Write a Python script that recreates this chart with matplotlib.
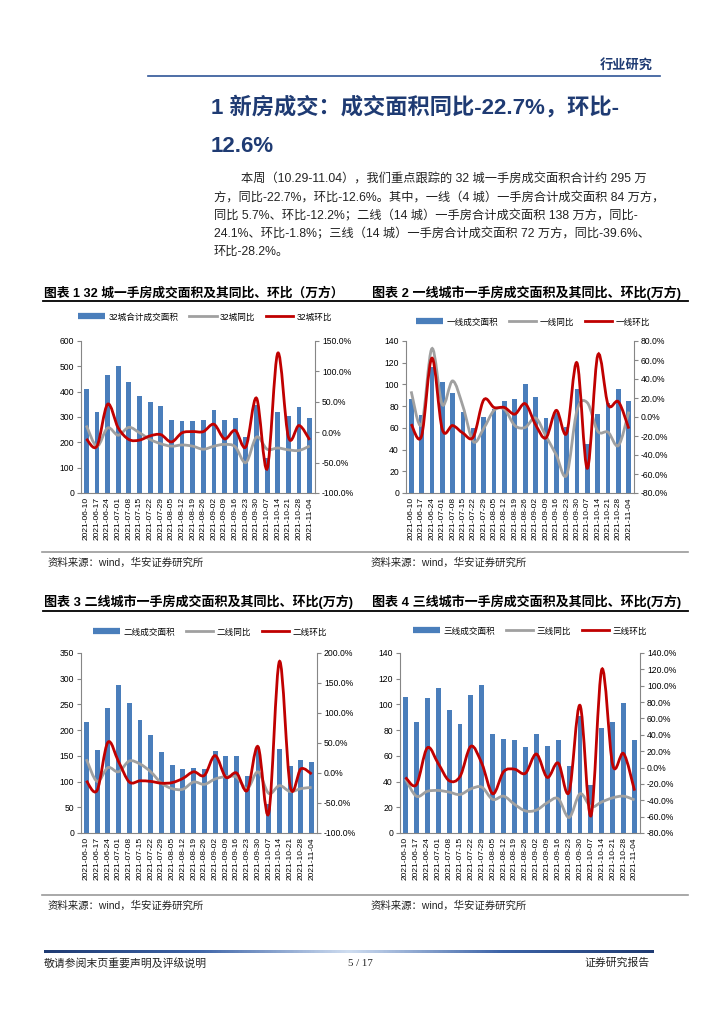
import matplotlib
matplotlib.use("Agg")
import matplotlib.pyplot as plt
from matplotlib.path import Path
from matplotlib.patches import PathPatch
from matplotlib.lines import Line2D
from matplotlib.colors import LinearSegmentedColormap
from matplotlib.ticker import FuncFormatter, MultipleLocator
import numpy as np

plt.rcParams['font.family'] = ['Liberation Sans', 'Noto Sans CJK SC', 'DejaVu Sans']

dates = ['2021-06-10', '2021-06-17', '2021-06-24', '2021-07-01', '2021-07-08', '2021-07-15',
         '2021-07-22', '2021-07-29', '2021-08-05', '2021-08-12', '2021-08-19', '2021-08-26',
         '2021-09-02', '2021-09-09', '2021-09-16', '2021-09-23', '2021-09-30', '2021-10-07',
         '2021-10-14', '2021-10-21', '2021-10-28', '2021-11-04']

# 32 cities
area32 = [410, 320, 465, 502, 440, 381, 358, 344, 288, 283, 286, 290, 326, 287, 296, 222, 346, 140, 320, 302, 338, 295]
yoy32 = [11, -23, 7, -5, 8, -1, -12, -19, -23, -21, -23, -28, -23, -20, -24, -50, -8, -28, -26, -29, -30, -22.7]
mom32 = [-11, -23, 46, 7, -12, -13, -6, -4, -16, -1, 1, 1, 13, -11, 3, -24, 56, -60, 130, -8, 11, -12.6]

# tier 1
area1 = [87, 72, 116, 102, 92, 75, 60, 70, 77, 85, 87, 100, 88, 69, 74, 61, 96, 45, 73, 83, 96, 85]
yoy1 = [27, -8, 72, 13, 38, 11, -26, -12, 7, 8, -9, -11, -1, -20, -40, -61, 7, 15, -15, -16, -30, 5.7]
mom1 = [-7.5, -20, 62, -13, -9, -17, -21, 18, 10, 10, 3, 14, -8, -22, 7, -17, 57, -54, 65, 13, 16, -12.2]

# tier 2
area2 = [216, 162, 243, 287, 252, 220, 190, 157, 133, 124, 126, 124, 160, 150, 150, 110, 168, 56, 163, 131, 141, 138]
yoy2 = [23, -14, 9, 2, 20, 15, 2, -17, -26, -27, -15, -19, -10, -6, -7, -26, 2, -34, -21, -31, -26, -24.1]
mom2 = [-13, -29, 51, 19, -15, -13, -14, -17, -16, -9, 2, -4, 29, -7, 0, -29, 44, -67, 186, -22, 7, -1.8]

# tier 3
area3 = [106, 86, 105, 113, 96, 85, 107, 115, 77, 73, 72, 67, 77, 68, 72, 52, 91, 37, 82, 86, 101, 72]
yoy3 = [-14, -35, -29, -28, -30, -33, -26, -24, -39, -35, -45, -53, -52, -43, -38, -61, -32, -48, -42, -37, -35, -39.6]
mom3 = [-12, -21, 24, 5, -16, -11, 26, 5, -32, -5, -2, -7, 16.5, -12, 5.5, -30, 76, -59, 120, 3, 17, -28.2]

W, H = 724, 1024
fig = plt.figure(figsize=(W / 100, H / 100), dpi=100)

NAVY = '#1F3B73'
BAR = '#4A7EBB'
GRAY = '#A0A0A0'
RED = '#C00000'
SPINE = '#868686'


def fx(x):
    return x / W


def fy(y):
    return 1 - y / H


def smooth_path(xs, ys):
    pts = np.column_stack([xs, ys]).astype(float)
    n = len(pts)
    verts = [pts[0]]
    codes = [Path.MOVETO]
    for i in range(n - 1):
        p0 = pts[i - 1] if i > 0 else pts[i]
        p1 = pts[i]
        p2 = pts[i + 1]
        p3 = pts[i + 2] if i + 2 < n else pts[i + 1]
        c1 = p1 + (p2 - p0) / 6.0
        c2 = p2 - (p3 - p1) / 6.0
        verts += [c1, c2, p2]
        codes += [Path.CURVE4] * 3
    return Path(verts, codes)


def chart(box, area, yoy, mom, labels, lylim, lstep, rylim, rstep, legend_xy):
    x0, y0, x1, y1 = box
    ax = fig.add_axes([fx(x0), fy(y1), fx(x1 - x0), (y1 - y0) / H])
    x = np.arange(len(dates))
    ax.bar(x, area, width=0.45, color=BAR, zorder=2)
    ax.set_xlim(-0.5, len(dates) - 0.5)
    ax.set_ylim(*lylim)
    ax.yaxis.set_major_locator(MultipleLocator(lstep))
    ax.set_xticks(x)
    ax.set_xticklabels(dates, rotation=90, fontsize=6)
    ax.tick_params(axis='x', length=0, pad=3)
    ax.tick_params(axis='y', labelsize=6.2, length=3, color=SPINE, pad=2)
    for s in ['top', 'right']:
        ax.spines[s].set_visible(False)
    for s in ['left', 'bottom']:
        ax.spines[s].set_color(SPINE)
        ax.spines[s].set_linewidth(0.8)
    ax2 = ax.twinx()
    ax2.set_ylim(*rylim)
    ax2.yaxis.set_major_locator(MultipleLocator(rstep))
    ax2.yaxis.set_major_formatter(FuncFormatter(lambda v, p: f"{v:.1f}%"))
    ax2.tick_params(axis='y', labelsize=6.2, length=3, color=SPINE, pad=2)
    for s in ['top', 'left', 'bottom']:
        ax2.spines[s].set_visible(False)
    ax2.spines['right'].set_color(SPINE)
    ax2.spines['right'].set_linewidth(0.8)
    ax2.add_patch(PathPatch(smooth_path(x, yoy), facecolor='none', edgecolor=GRAY, lw=2.0, zorder=3))
    ax2.add_patch(PathPatch(smooth_path(x, mom), facecolor='none', edgecolor=RED, lw=2.0, zorder=4))
    handles = [Line2D([], [], color=BAR, lw=4.5, solid_capstyle='butt'),
               Line2D([], [], color=GRAY, lw=2),
               Line2D([], [], color=RED, lw=2)]
    fig.legend(handles, labels, loc='center', bbox_to_anchor=(fx(legend_xy[0]), fy(legend_xy[1])),
               ncol=3, frameon=False, fontsize=6.2, handlelength=3.2, handletextpad=0.4,
               columnspacing=1.2, borderpad=0)
    return ax, ax2


chart((81, 341, 315, 493), area32, yoy32, mom32, ['32城合计成交面积', '32城同比', '32城环比'],
      (0, 600), 100, (-100, 150), 50, (205, 317))
chart((406, 341, 634, 493), area1, yoy1, mom1, ['一线成交面积', '一线同比', '一线环比'],
      (0, 140), 20, (-80, 80), 20, (533, 322))
chart((81, 653, 317, 833), area2, yoy2, mom2, ['二线成交面积', '二线同比', '二线环比'],
      (0, 350), 50, (-100, 200), 50, (210, 632))
chart((400, 653, 640, 833), area3, yoy3, mom3, ['三线成交面积', '三线同比', '三线环比'],
      (0, 140), 20, (-80, 140), 20, (530, 631))

# Header
fig.text(fx(653), fy(65), '行业研究', ha='right', va='center', fontsize=9.5, fontweight='bold', color=NAVY)
fig.add_artist(Line2D([fx(148), fx(660)], [fy(76), fy(76)], color='#2F5597', lw=1.2))

# Title
fig.text(fx(211), fy(107), '1 新房成交：成交面积同比-22.7%，环比-', ha='left', va='center',
         fontsize=16, fontweight='bold', color=NAVY)
fig.text(fx(211), fy(146), '12.6%', ha='left', va='center', fontsize=16, fontweight='bold', color=NAVY)

body = [
    (241, 179, '本周（10.29-11.04），我们重点跟踪的 32 城一手房成交面积合计约 295 万'),
    (214, 198, '方，同比-22.7%，环比-12.6%。其中，一线（4 城）一手房合计成交面积 84 万方，'),
    (214, 216, '同比 5.7%、环比-12.2%；二线（14 城）一手房合计成交面积 138 万方，同比-'),
    (214, 234, '24.1%、环比-1.8%；三线（14 城）一手房合计成交面积 72 万方，同比-39.6%、'),
    (214, 252, '环比-28.2%。'),
]
for bx, by, t in body:
    fig.text(fx(bx), fy(by), t, ha='left', va='center', fontsize=8.8, color='#222222')

# chart titles
fig.text(fx(44), fy(293), '图表 1 32 城一手房成交面积及其同比、环比（万方）', ha='left', va='center',
         fontsize=9.2, fontweight='bold', color='black')
fig.text(fx(372), fy(293), '图表 2 一线城市一手房成交面积及其同比、环比(万方)', ha='left', va='center',
         fontsize=9.4, fontweight='bold', color='black')
fig.text(fx(44), fy(602), '图表 3 二线城市一手房成交面积及其同比、环比(万方)', ha='left', va='center',
         fontsize=9.4, fontweight='bold', color='black')
fig.text(fx(372), fy(602), '图表 4 三线城市一手房成交面积及其同比、环比(万方)', ha='left', va='center',
         fontsize=9.4, fontweight='bold', color='black')
for yy in (301, 611):
    fig.add_artist(Line2D([fx(43), fx(688)], [fy(yy), fy(yy)], color='black', lw=1.3))

# source lines
for yy, ty in ((552, 563), (895, 906)):
    fig.add_artist(Line2D([fx(42), fx(688)], [fy(yy), fy(yy)], color='#9A9A9A', lw=1.2))
    fig.text(fx(48), fy(ty), '资料来源：wind，华安证券研究所', ha='left', va='center', fontsize=7.5, color='#222222')
    fig.text(fx(371), fy(ty), '资料来源：wind，华安证券研究所', ha='left', va='center', fontsize=7.5, color='#222222')

# footer gradient line
gax = fig.add_axes([fx(44), fy(953), fx(654 - 44), 3 / H])
cmap = LinearSegmentedColormap.from_list('g', ['#1F3B73', '#3D64A8', '#CFDDF0', '#3D64A8', '#1F3B73'])
gax.imshow(np.linspace(0, 1, 400).reshape(1, -1), aspect='auto', cmap=cmap)
gax.axis('off')

fig.text(fx(44), fy(963), '敬请参阅末页重要声明及评级说明', ha='left', va='center', fontsize=7.8, color='#222222')
fig.text(fx(360), fy(963), '5 / 17', ha='center', va='center', fontsize=7.8, color='#222222',
         family=['Liberation Serif', 'DejaVu Serif'])
fig.text(fx(650), fy(963), '证券研究报告', ha='right', va='center', fontsize=7.8, color='#222222')

fig.savefig('out.png', dpi=100)
